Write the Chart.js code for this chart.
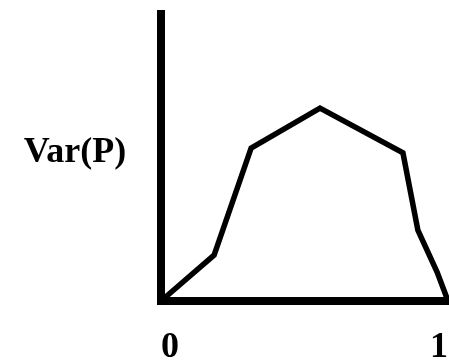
<!DOCTYPE html>
<html>
<head>
<meta charset="utf-8">
<script src="https://cdn.jsdelivr.net/npm/chart.js@4/dist/chart.umd.min.js"></script>
<style>
  html, body { margin: 0; padding: 0; background: #fff; }
  #wrap { width: 449px; height: 364px; }
</style>
</head>
<body>
<div id="wrap"><canvas id="varChart"></canvas></div>
<script>
// data (x in 0..1, y relative)
var pValues = [0, 0.185, 0.314, 0.554, 0.843, 0.895, 0.962, 1];
var varValues = [0, 0.160, 0.533, 0.672, 0.516, 0.247, 0.101, 0];
var xTickLabels = ['0', '1'];
var yAxisLabel = 'Var(P)';

var serif = '"Liberation Serif", "Times New Roman", serif';

// label on the left, written horizontally
var yLabelPlugin = {
    id: 'yLabel',
    afterDraw: function (chart) {
        var ctx = chart.ctx;
        ctx.save();
        ctx.font = 'bold 36px ' + serif;
        ctx.fillStyle = '#000';
        ctx.textAlign = 'center';
        ctx.textBaseline = 'middle';
        ctx.fillText(yAxisLabel, 75, 153);
        ctx.restore();
    }
};

var points = pValues.map(function (p, i) {
    return { x: p, y: varValues[i] };
});

new Chart(document.getElementById('varChart').getContext('2d'), {
    type: 'line',
    data: {
        datasets: [{
            data: points,
            borderColor: '#000',
            borderWidth: 5.5,
            pointRadius: 0,
            fill: false,
            tension: 0,
            clip: false
        }]
    },
    options: {
        responsive: true,
        maintainAspectRatio: false,
        animation: false,
        layout: {
            padding: { left: 161, top: 14, right: 1, bottom: 2 }
        },
        plugins: {
            legend: { display: false },
            tooltip: { enabled: false }
        },
        scales: {
            x: {
                type: 'linear',
                min: 0,
                max: 1,
                grid: { display: false, drawTicks: false },
                border: { display: true, color: '#000', width: 8 },
                afterBuildTicks: function (axis) {
                    axis.ticks = [{ value: 0 }, { value: 1 }];
                },
                afterFit: function (axis) {
                    axis.height = 61;
                    axis.paddingLeft = 0;
                    axis.paddingRight = 0;
                },
                ticks: {
                    align: 'inner',
                    padding: 29,
                    color: '#000',
                    maxRotation: 0,
                    font: { family: serif, size: 36, weight: 'bold', lineHeight: 1 },
                    callback: function (value) {
                        return xTickLabels[value === 0 ? 0 : 1];
                    }
                }
            },
            y: {
                min: 0,
                max: 1,
                grid: { display: false, drawTicks: false },
                border: { display: true, color: '#000', width: 8 },
                ticks: { display: false }
            }
        }
    },
    plugins: [yLabelPlugin]
});
</script>
</body>
</html>
